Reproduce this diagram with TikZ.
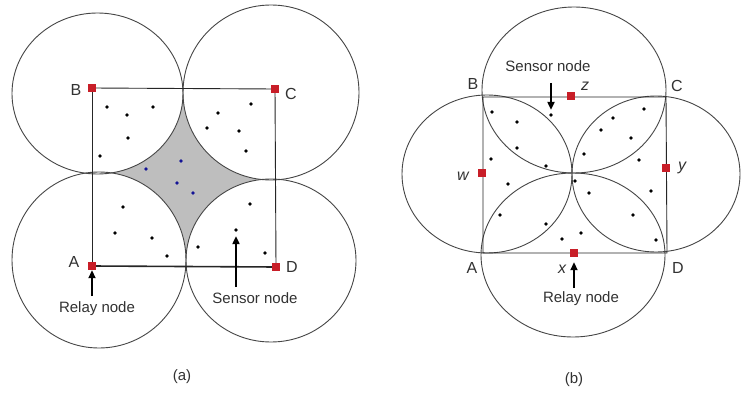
\documentclass[tikz,border=0pt]{standalone}
\usepackage{fontspec}
\setmainfont{Liberation Sans}
\usetikzlibrary{arrows.meta}
\definecolor{relayred}{RGB}{200,30,40}
\definecolor{ringgrey}{RGB}{70,70,70}
\definecolor{greyfill}{RGB}{190,190,190}
\definecolor{navy}{RGB}{20,20,150}
\definecolor{inkgrey}{RGB}{50,50,50}
\tikzset{
  ring/.style={draw=ringgrey, line width=0.9pt},
  side/.style={draw=black!85, line width=0.9pt},
  relay/.style={fill=relayred, draw=none, minimum size=8pt, inner sep=0pt},
  sdot/.style={fill=black, circle, inner sep=0pt, minimum size=3.8pt},
  bdot/.style={fill=navy, circle, inner sep=0pt, minimum size=3.8pt},
  lbl/.style={font=\fontsize{16}{18}\selectfont, text=inkgrey, anchor=base, inner sep=0pt},
  captext/.style={font=\fontsize{15}{18}\selectfont, text=inkgrey, anchor=base, inner sep=0pt},
  ptr/.style={line width=1.8pt, -{Triangle[length=8pt,width=7pt]}}
}
\begin{document}
\begin{tikzpicture}[x=1pt,y=-1pt]
\useasboundingbox (0,0) rectangle (741,393);
\fill[white] (0,0) rectangle (741,393);
% ---------- panel (a) ----------
\fill[greyfill] (92,88) rectangle (276,267);
\fill[white] (97.5,93.5) ellipse [x radius=85.5pt, y radius=80.5pt];
\fill[white] (271,92.5) ellipse [x radius=88pt, y radius=87.5pt];
\fill[white] (99,260) ellipse [x radius=87pt, y radius=88pt];
\fill[white] (271,260.5) ellipse [x radius=85pt, y radius=81.5pt];
\draw[ring] (97.5,93.5) ellipse [x radius=85.5pt, y radius=80.5pt];
\draw[ring] (271,92.5) ellipse [x radius=88pt, y radius=87.5pt];
\draw[ring] (99,260) ellipse [x radius=87pt, y radius=88pt];
\draw[ring] (271,260.5) ellipse [x radius=85pt, y radius=81.5pt];

\node[relay] (aB) at (92,88) {};
\node[relay] (aC) at (275,89) {};
\node[relay] (aA) at (92,266) {};
\node[relay] (aD) at (276,267) {};
\draw[side] (aB) -- (aC) -- (aD);
\draw[side] (aB) -- (aA);
\draw[side, line width=1.6pt] (aA) -- (aD);

\foreach \p [count=\i] in {(107,107),(127,115),(153,107),(128,138),(100,156),
  (218,113),(251,104),(207,128),(239,131),(246,151),(123,207),(115,233),
  (152,238),(167,256),(250,204),(198,247),(265,253)}
  \node[sdot] (ad\i) at \p {};
\node[sdot] (asensor) at (236,230) {};
\foreach \p [count=\i] in {(181,161),(146,169),(177,183),(193,193)}
  \node[bdot] (ab\i) at \p {};

\node[lbl] (laB) at (76,96) {B};
\node[lbl] (laC) at (291,100) {C};
\node[lbl] (laA) at (74,267) {A};
\node[lbl] (laD) at (292,272) {D};

\coordinate (aRtail) at (92,296);
\draw[ptr] (aRtail) -- (aA);
\node[captext] (aRelay) at (97,312.5) {Relay node};
\coordinate (aStail) at (236,287);
\draw[ptr, shorten >=4pt] (aStail) -- (asensor);
\node[captext] (aSensor) at (255,303) {Sensor node};
\node[captext] (capa) at (182,380) {(a)};

% ---------- panel (b) ----------
\draw[ring] (574,90) ellipse [x radius=92pt, y radius=83pt];
\draw[ring] (573,255) ellipse [x radius=92pt, y radius=82pt];
\draw[ring] (487,174) ellipse [x radius=85pt, y radius=79pt];
\draw[ring] (656,174) ellipse [x radius=84pt, y radius=78pt];

\coordinate (bB) at (483,97);
\coordinate (bC) at (666,97);
\coordinate (bD) at (667,253);
\coordinate (bA) at (483,253);
\draw[side] (bB) -- (bC) -- (bD) -- (bA) -- cycle;

\node[relay] (bz) at (571,96) {};
\node[relay] (bw) at (482,173) {};
\node[relay] (by) at (666,168) {};
\node[relay] (bx) at (574,253) {};

\foreach \p [count=\i] in {(492,112),(517,122),(517,148),(491,159),(546,166),
  (508,184),(644,109),(613,118),(601,130),(631,138),(584,154),(639,160),
  (575,181),(589,193),(651,191),(500,215),(546,224),(562,239),(581,233),
  (633,215),(656,240)}
  \node[sdot] (bd\i) at \p {};
\node[sdot] (bsensor) at (551,115) {};

\node[lbl] (lbB) at (473,90) {B};
\node[lbl] (lbC) at (677,92) {C};
\node[lbl] (lbA) at (472,273) {A};
\node[lbl] (lbD) at (678,273) {D};
\node[lbl] (lbz) at (585,91) {\itshape z};
\node[lbl] (lbw) at (463,180) {\itshape w};
\node[lbl] (lby) at (682,170) {\itshape y};
\node[lbl] (lbx) at (562,273) {\itshape x};

\node[captext] (bSensor) at (548,72) {Sensor node};
\coordinate (bStail) at (551,83);
\draw[ptr, shorten >=3pt] (bStail) -- (bsensor);
\coordinate (bRtail) at (574,288);
\draw[ptr, shorten >=5pt] (bRtail) -- (bx);
\node[captext] (bRelay) at (581,302) {Relay node};
\node[captext] (capb) at (574,383) {(b)};
\end{tikzpicture}
\end{document}
